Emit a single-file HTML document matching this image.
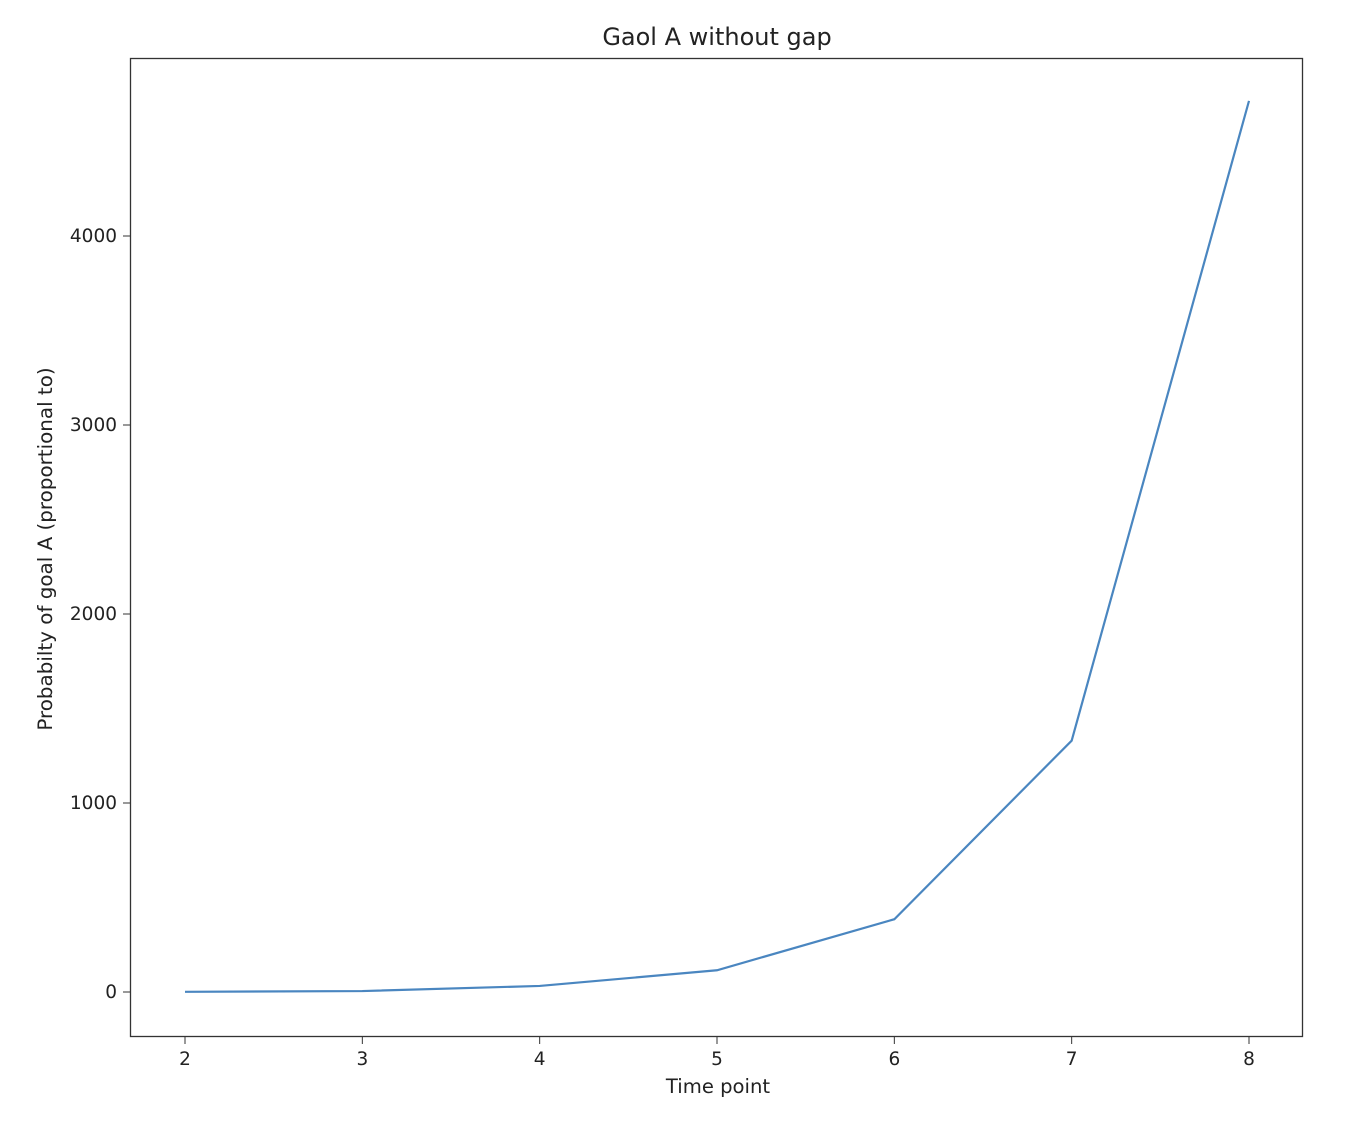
<!DOCTYPE html>
<html><head><meta charset="utf-8"><style>
html,body{margin:0;padding:0;background:#fff;}
svg text{font-family:"DejaVu Sans","Liberation Sans",sans-serif;fill:#222;}
</style></head><body>
<svg id="chart" width="1356" height="1120" xmlns="http://www.w3.org/2000/svg">
<text x="717" y="45" text-anchor="middle" font-size="24">Gaol A without gap</text>
<rect x="130.5" y="58.5" width="1172" height="978" fill="none" stroke="#333" stroke-width="1.3"/>
<g id="xticks"></g><g id="yticks"></g>
<text x="718" y="1093" text-anchor="middle" font-size="19.6">Time point</text>
<text transform="translate(52,549) rotate(-90)" text-anchor="middle" font-size="19.9">Probabilty of goal A (proportional to)</text>
<path id="line" fill="none" stroke="#4a86c0" stroke-width="2.2"/>
</svg>
<script>
const timePoints=[2,3,4,5,6,7,8];
const probValues=[1,5,32,115,385,1330,4715];
const xTickLabels=[2,3,4,5,6,7,8];
const yTickLabels=[0,1000,2000,3000,4000];
function xs(v){return 185+(v-2)*(1249-185)/6;}
function ys(v){return 992-v*(992-236)/4000;}
const ns="http://www.w3.org/2000/svg";
const xt=document.getElementById('xticks'),yt=document.getElementById('yticks');
xTickLabels.forEach(v=>{
 const l=document.createElementNS(ns,'line');
 l.setAttribute('x1',xs(v));l.setAttribute('x2',xs(v));l.setAttribute('y1',1037);l.setAttribute('y2',1044);l.setAttribute('stroke','#333');
 
 
 xt.appendChild(l);
 const t=document.createElementNS(ns,'text');
 t.setAttribute('x',xs(v));t.setAttribute('y',1065);t.setAttribute('text-anchor','middle');t.setAttribute('font-size','18.5');t.textContent=v;
 
 
 xt.appendChild(t);
});
yTickLabels.forEach(v=>{
 const l=document.createElementNS(ns,'line');
 l.setAttribute('x1',123);l.setAttribute('x2',130);l.setAttribute('y1',ys(v));l.setAttribute('y2',ys(v));l.setAttribute('stroke','#333');
 
 
 yt.appendChild(l);
 const t=document.createElementNS(ns,'text');
 t.setAttribute('x',117);t.setAttribute('y',ys(v)+6);t.setAttribute('text-anchor','end');t.setAttribute('font-size','18.5');t.textContent=v;
 
 
 yt.appendChild(t);
});
document.getElementById('line').setAttribute('d',timePoints.map((x,i)=>(i?'L':'M')+xs(x)+','+ys(probValues[i])).join(' '));
</script>
</body></html>
